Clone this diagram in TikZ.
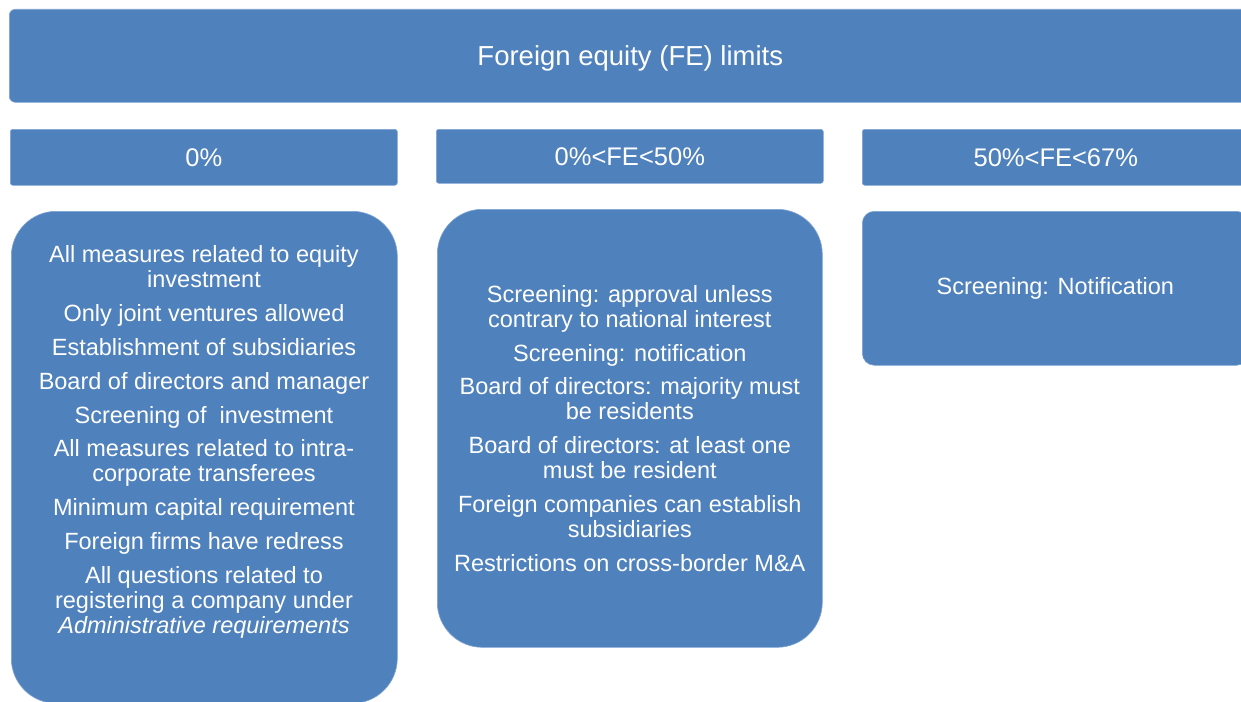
\documentclass[tikz,border=0pt]{standalone}
\usepackage{fontspec}
\setmainfont{Liberation Sans}
\usepackage{xcolor}
\definecolor{boxblue}{RGB}{79,129,189}
\definecolor{boxedge}{RGB}{128,166,212}

\begin{document}
\begin{tikzpicture}[x=1pt,y=-1pt,
  box/.style={fill=boxblue,draw=boxedge,line width=0.6pt,text=white,
    inner sep=0pt,anchor=north west},
  titlebox/.style={box,rounded corners=6pt,minimum width=1242pt,minimum height=93pt,
    text height=26pt,text depth=6pt,font=\fontsize{27.5}{30}\selectfont},
  headbox/.style={box,rounded corners=2.5pt,minimum width=387pt,
    font=\fontsize{25.5}{28}\selectfont},
  listbox/.style={box,minimum width=386pt},
  listtext/.style={text=white,align=center,inner sep=0pt,
    font=\fontsize{23.5}{25}\selectfont}]
  \useasboundingbox (0,0) rectangle (1241,701);
  \clip (0,0) rectangle (1241,701);
% title across the top
  \node[titlebox] (limits) at (9,9) {Foreign equity (FE) limits};
% the three equity bands
  \node[headbox,minimum height=56pt] (bandZero) at (10,129) {0\%};
  \node[headbox,minimum height=54pt] (bandLow) at (436,129) {0\%<FE<50\%};
  \node[headbox,minimum height=56pt] (bandHigh) at (862,129) {50\%<FE<67\%};
% measures under each band
  \node[listbox,rounded corners=45pt,minimum height=492pt] (zeroBox) at (11,211) {};
  \node[listbox,rounded corners=45pt,minimum height=438pt,minimum width=385pt] (lowBox) at (437,209) {};
  \node[listbox,rounded corners=12pt,minimum height=154pt] (highBox) at (862,211) {};
  \node[listtext] (zeroText) at (204,442) {All measures related to equity\\investment\\[8.8pt]
    Only joint ventures allowed\\[8.8pt]
    Establishment of subsidiaries\\[8.8pt]
    Board of directors and manager\\[8.8pt]
    Screening of\ \ investment\\[8.8pt]
    All measures related to intra-\\corporate transferees\\[8.8pt]
    Minimum capital requirement\\[8.8pt]
    Foreign firms have redress\\[8.8pt]
    All questions related to\\registering a company under\\\textit{Administrative requirements}};
  \node[listtext] (lowText) at (lowBox.center) {Screening: approval unless\\contrary to national interest\\[8.8pt]
    Screening: notification\\[8.8pt]
    Board of directors: majority must\\be residents\\[8.8pt]
    Board of directors: at least one\\must be resident\\[8.8pt]
    Foreign companies can establish\\subsidiaries\\[8.8pt]
    Restrictions on cross-border M\&A};
  \node[listtext] (highText) at (highBox.center) {Screening: Notification};
\end{tikzpicture}
\end{document}
